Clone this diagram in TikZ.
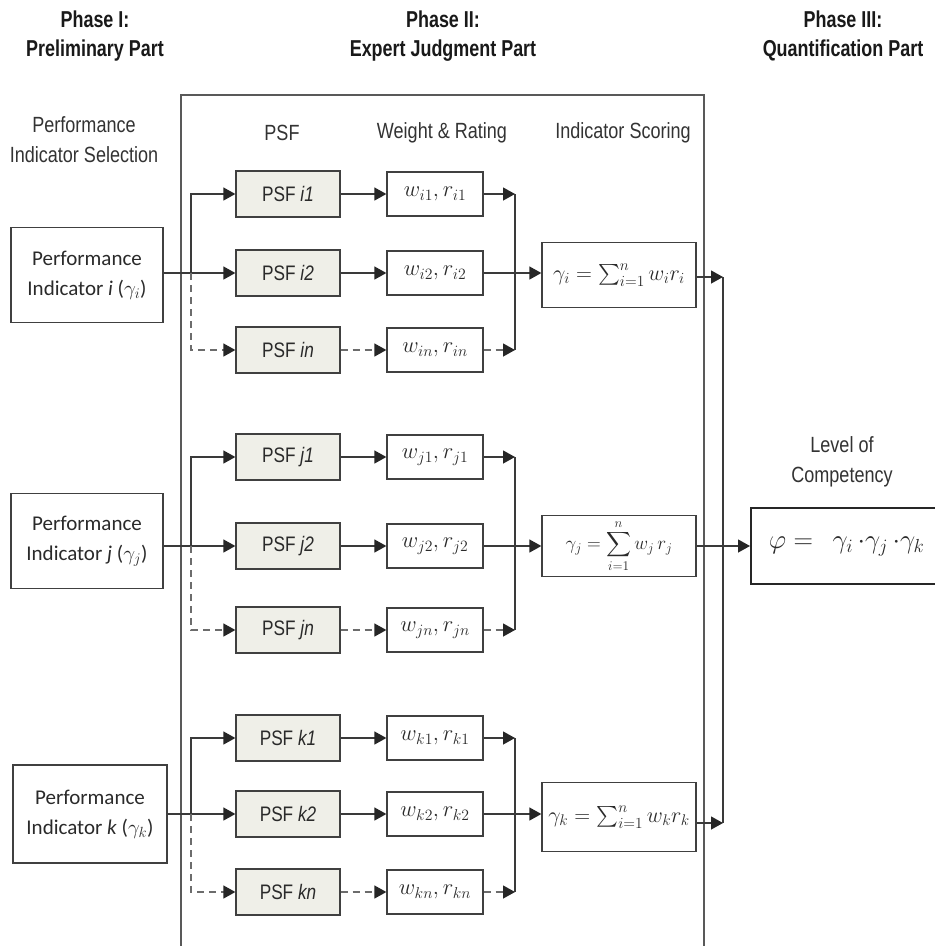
\documentclass[tikz,border=0pt]{standalone}
\usepackage{fix-cm}
\usepackage{amsmath}
\usepackage{fontspec}
\usetikzlibrary{arrows.meta}
\newfontfamily\hdr[FakeStretch=0.82]{Liberation Sans}
\newfontfamily\hdrb[FakeStretch=0.78]{Liberation Sans}
\newfontfamily\carlfont{Carlito}
\definecolor{linec}{HTML}{3A3A3A}
\definecolor{boxc}{HTML}{404040}
\definecolor{psffill}{HTML}{EFEFE8}
\definecolor{txtc}{HTML}{2A2A2A}
\begin{document}
\begin{tikzpicture}[x=1pt,y=-1pt,
  every node/.style={inner sep=0pt, text=txtc},
  arr/.style={draw=linec, line width=1.3pt, -{Triangle[length=12pt,width=13pt,color=black!85]}},
  plain/.style={draw=linec, line width=1.3pt},
  dsh/.style={dash pattern=on 7pt off 5pt, draw=gray!85!black},
  psfbox/.style={draw=boxc, fill=psffill, line width=1.3pt, minimum width=104pt, minimum height=46pt, font=\hdr\fontsize{21}{24}\selectfont},
  wbox/.style={draw=boxc, fill=white, line width=1.3pt, minimum width=96pt, minimum height=44pt, font=\fontsize{22.5}{24}\selectfont},
  pibox/.style={draw=boxc, fill=white, line width=1.3pt, minimum width=152pt, minimum height=95pt, align=center, font=\carlfont\fontsize{21}{30}\selectfont},
  gbox/.style={draw=boxc, fill=white, line width=1.3pt, minimum width=154pt, font=\fontsize{22}{24}\selectfont},
  head/.style={align=center, text=black!80, font=\hdr\fontsize{22}{30}\selectfont},
  title/.style={align=center, text=black!90, font=\hdrb\bfseries\fontsize{23}{29}\selectfont}
]
\clip (0,0) rectangle (935,946);
\fill[white] (0,0) rectangle (935,946);

% titles
\node[title] (t1) at (95,36) {Phase I:\\Preliminary Part};
\node[title] (t2) at (443,36) {Phase II:\\Expert Judgment Part};
\node[title] (t3) at (843,36) {Phase III:\\Quantification Part};

% big frame
\draw[draw=gray!70!black, line width=1.5pt] (181,960) -- (181,95) -- (704,95) -- (704,960);

% headers
\node[head] (h1) at (84,140) {Performance\\Indicator Selection};
\node[head] (h2) at (282,133) {PSF};
\node[head] (h3) at (442,133) {Weight \& Rating};
\node[head] (h4) at (623,133) {Indicator Scoring};
\node[head] (h5) at (842,462) {Level of\\Competency};

% performance indicators
\node[pibox] (pii) at (87,275) {Performance\\Indicator \textit{i} ($\gamma_i$)};
\node[pibox] (pij) at (87,541) {Performance\\Indicator \textit{j} ($\gamma_j$)};
\node[pibox, minimum width=154pt, minimum height=98pt] (pik) at (90,814) {Performance\\Indicator \textit{k} ($\gamma_k$)};

% scoring boxes
\node[gbox, minimum height=65pt] (gi) at (619,275) {$\gamma_i = \sum_{i=1}^{n} w_i r_i$};
\node[gbox, minimum height=61pt, font=\fontsize{19}{20}\selectfont] (gj) at (619,546) {$\displaystyle\gamma_j = \sum_{i=1}^{n} w_j\, r_j$};
\node[gbox, minimum height=69pt] (gk) at (619,817) {$\gamma_k = \sum_{i=1}^{n} w_k r_k$};

% result box
\node[draw=black!85, line width=1.6pt, fill=white, anchor=west, minimum height=76pt, text width=170pt, inner xsep=18pt, align=left, font=\fontsize{27}{32}\selectfont] (phi) at (750,546) {\mbox{$\varphi =\;\, \gamma_i \,{\cdot} \gamma_j \,{\cdot} \gamma_k$}};

% groups
\foreach \g/\ya/\yb/\yc in {i/194/273/350, j/457/546/630, k/738/814/892} {
  \node[psfbox] (psf\g1) at (288,\ya) {PSF \textit{\g1}};
  \node[psfbox] (psf\g2) at (288,\yb) {PSF \textit{\g2}};
  \node[psfbox] (psf\g3) at (288,\yc) {PSF \textit{\g n}};
  \node[wbox] (w\g1) at (435,\ya) {$w_{\g1},r_{\g1}$};
  \node[wbox] (w\g2) at (435,\yb) {$w_{\g2},r_{\g2}$};
  \node[wbox] (w\g3) at (435,\yc) {$w_{\g n},r_{\g n}$};
  \coordinate (b\g) at (191,\yb);
  \coordinate (m\g1) at (515,\ya);
  \coordinate (m\g3) at (515,\yc);
  % from indicator to PSFs
  \draw[arr] (pi\g.east |- psf\g2.west) -- (psf\g2.west);
  \draw[arr] (b\g) |- (psf\g1.west);
  \draw[arr, dsh] (b\g) |- (psf\g3.west);
  % PSF to weights
  \draw[arr] (psf\g1.east) -- (w\g1.west);
  \draw[arr] (psf\g2.east) -- (w\g2.west);
  \draw[arr, dsh] (psf\g3.east) -- (w\g3.west);
  % weights to merge
  \draw[arr] (w\g1.east) -- (m\g1);
  \draw[arr, dsh] (w\g3.east) -- (m\g3);
  \draw[plain] (m\g1) -- (m\g3);
  \draw[arr] (w\g2.east) -- (g\g.west |- w\g2.east);
}

% collection to result
\coordinate (ca) at (723,277);
\coordinate (ck) at (723,823);
\draw[arr] (gi.east |- ca) -- (ca);
\draw[arr] (gk.east |- ck) -- (ck);
\draw[plain] (ca) -- (ck);
\draw[arr] (gj.east) -- (phi.west |- gj.east);
\end{tikzpicture}
\end{document}
